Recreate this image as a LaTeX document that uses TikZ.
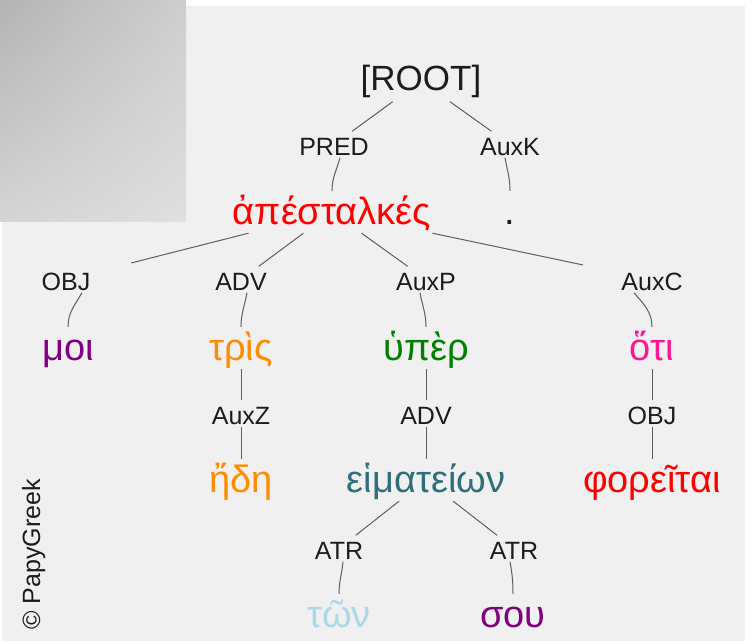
\documentclass[tikz,border=0pt]{standalone}
\usepackage{fontspec}
\setmainfont{Liberation Sans}
\usetikzlibrary{shadings}
\definecolor{panel}{HTML}{F0F0F0}
\definecolor{shadea}{HTML}{B4B4B4}
\definecolor{shadeb}{HTML}{CECECE}
\definecolor{shadec}{HTML}{D4D4D4}
\definecolor{shaded}{HTML}{DFDFDF}
\definecolor{labelink}{HTML}{1C1C1C}
\definecolor{edgegrey}{HTML}{5E5E5E}
\definecolor{wred}{HTML}{FF0000}
\definecolor{wpurple}{HTML}{800080}
\definecolor{worange}{HTML}{FF8C00}
\definecolor{wgreen}{HTML}{008000}
\definecolor{wpink}{HTML}{FF1493}
\definecolor{wteal}{HTML}{2F6F7A}
\definecolor{wlight}{HTML}{ADD8E6}
\begin{document}
\begin{tikzpicture}[x=1pt,y=-1pt,
  word/.style={anchor=base, inner xsep=2pt, inner ysep=2pt, text height=31pt, text depth=7pt, font=\fontsize{38}{38}\selectfont},
  rel/.style={anchor=base, inner xsep=2pt, inner ysep=2.5pt, text height=21pt, text depth=0pt, text=labelink, font=\fontsize{25}{25}\selectfont},
  edge/.style={draw=edgegrey, line width=1pt}]
  \useasboundingbox (0,0) rectangle (754,643);
  \fill[white] (0,0) rectangle (754,643);
  \fill[panel] (2,6) rectangle (745,641);
  \shade[upper left=shadea, upper right=shadeb, lower left=shadec, lower right=shaded] (0,0) rectangle (186,221);

  \node[rel, font=\fontsize{35}{35}\selectfont, text height=28pt, text depth=9pt, inner ysep=2pt] (root) at (421,90.5) {[ROOT]};
  \node[rel] (pred) at (334,155) {PRED};
  \node[rel] (auxk) at (510,155) {AuxK};
  \node[word, text=wred] (apestalkes) at (332,224) {ἀπέσταλκές};
  \node[word, text=labelink] (stop) at (510,224) {.};

  \node[rel] (obj) at (66,290) {OBJ};
  \node[rel] (adv) at (241,290) {ADV};
  \node[rel] (auxp) at (426,290) {AuxP};
  \node[rel] (auxc) at (652,290) {AuxC};
  \node[word, text=wpurple] (moi) at (68,360) {μοι};
  \node[word, text=worange] (tris) at (241,360) {τρὶς};
  \node[word, text=wgreen] (hyper) at (426,360) {ὑπὲρ};
  \node[word, text=wpink] (hoti) at (652,360) {ὅτι};

  \node[rel] (auxz) at (241,424) {AuxZ};
  \node[rel] (advb) at (426,424) {ADV};
  \node[rel] (objb) at (652,424) {OBJ};
  \node[word, text=worange] (ede) at (241,492) {ἤδη};
  \node[word, text=wteal] (heimateion) at (426,492) {εἱματείων};
  \node[word, text=wred] (phoreitai) at (652,492) {φορεῖται};

  \node[rel] (atra) at (339,559) {ATR};
  \node[rel] (atrb) at (514,559) {ATR};
  \node[word, text=wlight] (ton) at (339,627) {τῶν};
  \node[word, text=wpurple] (sou) at (513,627) {σου};

  \node[rotate=90, anchor=base west, text=labelink, font=\fontsize{25}{25}\selectfont] (copyright) at (40,633) {© PapyGreek};

  \draw[edge] (root) -- (pred);
  \draw[edge] (root) -- (auxk);
  \draw[edge] ([xshift=6pt]pred.south) to[out=-105,in=90] (apestalkes.north);
  \draw[edge] ([xshift=-5pt]auxk.south) to[out=-80,in=90] (stop.north);

  \draw[edge, shorten >=40pt] (apestalkes) -- (obj);
  \draw[edge] (apestalkes) -- (adv);
  \draw[edge] (apestalkes) -- (auxp);
  \draw[edge, shorten >=37pt] (apestalkes) -- (auxc);
  \draw[edge] ([xshift=16pt]obj.south) to[out=-120,in=90] (moi.north);
  \draw[edge] ([xshift=6pt]adv.south) to[out=-100,in=90] (tris.north);
  \draw[edge] ([xshift=-6pt]auxp.south) to[out=-80,in=90] (hyper.north);
  \draw[edge] ([xshift=-18pt]auxc.south) to[out=-50,in=90] (hoti.north);

  \draw[edge] (tris) -- (auxz);
  \draw[edge] (auxz) -- (ede);
  \draw[edge] (hyper) -- (advb);
  \draw[edge] (advb) -- (heimateion);
  \draw[edge] (hoti) -- (objb);
  \draw[edge] (objb) -- (phoreitai);

  \draw[edge] (heimateion) -- (atra);
  \draw[edge] (heimateion) -- (atrb);
  \draw[edge] ([xshift=4pt]atra.south) to[out=-95,in=90] (ton.north);
  \draw[edge] ([xshift=-4pt]atrb.south) to[out=-80,in=90] (sou.north);
\end{tikzpicture}
\end{document}
